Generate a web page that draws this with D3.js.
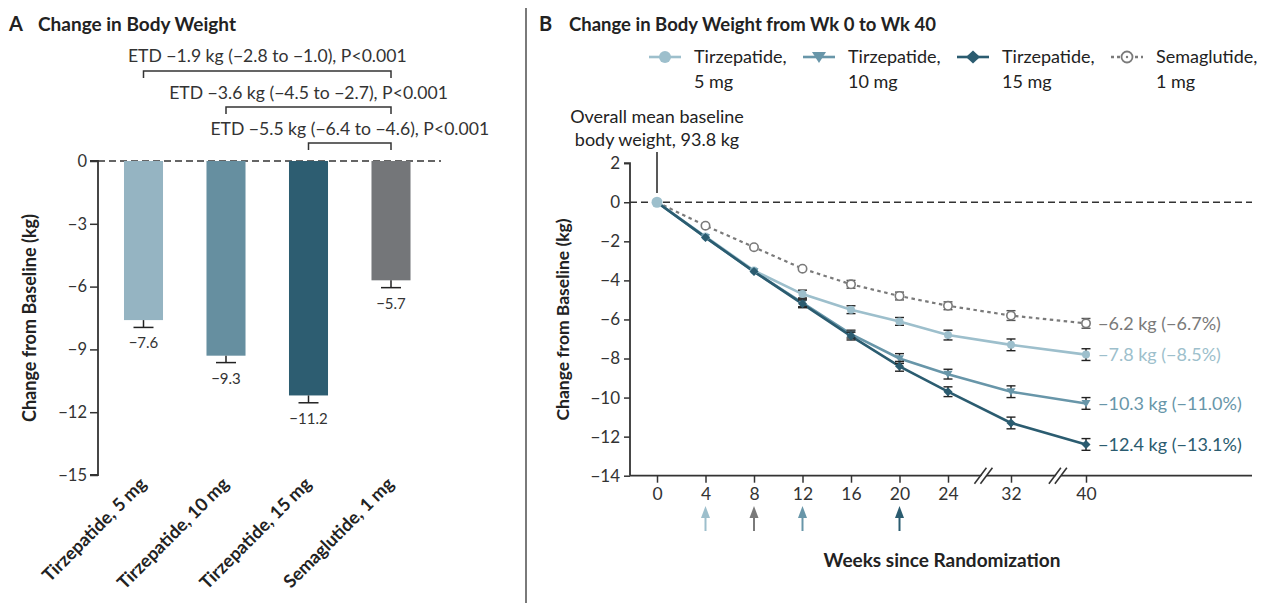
<!DOCTYPE html>
<html>
<head>
<meta charset="utf-8">
<script src="https://cdn.jsdelivr.net/npm/d3@7"></script>
<style>
  html, body { margin: 0; padding: 0; background: #fff; }
  svg { display: block; }
</style>
</head>
<body>
<svg id="chart" width="1261" height="603"></svg>
<script>
// ---------- Panel A data ----------
const categories = ["Tirzepatide, 5 mg", "Tirzepatide, 10 mg", "Tirzepatide, 15 mg", "Semaglutide, 1 mg"];
const barValues = [-7.6, -9.3, -11.2, -5.7];
const barSE = [0.35, 0.33, 0.35, 0.35];
const barValueLabels = ["−7.6", "−9.3", "−11.2", "−5.7"];
const barYTicks = [0, -3, -6, -9, -12, -15];
const etdLabels = [
  "ETD −1.9 kg (−2.8 to −1.0), P<0.001",
  "ETD −3.6 kg (−4.5 to −2.7), P<0.001",
  "ETD −5.5 kg (−6.4 to −4.6), P<0.001"
];
const etdPairs = [[0, 3], [1, 3], [2, 3]];

// ---------- Panel B data ----------
const weeks = [0, 4, 8, 12, 16, 20, 24, 32, 40];
const tirz5  = [0, -1.75, -3.5, -4.7, -5.5, -6.1, -6.8, -7.3, -7.8];
const tirz10 = [0, -1.8, -3.55, -5.15, -6.75, -8.0, -8.8, -9.7, -10.3];
const tirz15 = [0, -1.8, -3.55, -5.2, -6.85, -8.4, -9.7, -11.3, -12.4];
const sema   = [0, -1.2, -2.3, -3.4, -4.2, -4.8, -5.3, -5.8, -6.2];
const tirz5SE  = [0, 0, 0, 0.2, 0.2, 0.2, 0.25, 0.3, 0.3];
const tirz10SE = [0, 0, 0, 0.2, 0.2, 0.25, 0.25, 0.3, 0.3];
const tirz15SE = [0, 0, 0, 0.2, 0.2, 0.25, 0.25, 0.3, 0.3];
const semaSE   = [0, 0, 0, 0, 0.2, 0.2, 0.2, 0.25, 0.25];
const seriesNames = ["Tirzepatide,|5 mg", "Tirzepatide,|10 mg", "Tirzepatide,|15 mg", "Semaglutide,|1 mg"];
const endLabels = ["−7.8 kg (−8.5%)", "−10.3 kg (−11.0%)", "−12.4 kg (−13.1%)", "−6.2 kg (−6.7%)"];
const lineYTicks = [2, 0, -2, -4, -6, -8, -10, -12, -14];
const arrowWeeks = [4, 8, 12, 20];

// ---------- Styles ----------
const barColors = ["#95b4c2", "#668fa0", "#2d5d71", "#747679"];
const lineColors = ["#9dbfcc", "#6896a9", "#2b5c70", "#7a7a7a"];
const arrowColors = ["#9dbfcc", "#7a7a7a", "#6896a9", "#2b5c70"];
const textColor = "#333";
const FA = "Lato, 'Open Sans', sans-serif";
const FB = "Lato, 'Open Sans', sans-serif";

const svg = d3.select("#chart");

// divider
svg.append("line").attr("x1", 526).attr("x2", 526).attr("y1", 8).attr("y2", 603)
  .attr("stroke", "#7a7a7a").attr("stroke-width", 2);

// ================= PANEL A =================
const gA = svg.append("g");
gA.append("text").attr("x", 9).attr("y", 31).attr("font-family", FA).attr("font-weight", 700)
  .attr("font-size", 20).attr("fill", "#222").text("A");
gA.append("text").attr("x", 38).attr("y", 31).attr("font-family", FA).attr("font-weight", 700)
  .attr("font-size", 19).attr("fill", "#222").text("Change in Body Weight");

const yA = d3.scaleLinear().domain([-15, 0]).range([475, 161]);
const xA = d3.scaleBand().domain(categories).range([98, 436.5]).paddingInner(0.527).paddingOuter(0.315);

// zero dashed line
gA.append("line").attr("x1", 98).attr("x2", 441).attr("y1", yA(0)).attr("y2", yA(0))
  .attr("stroke", "#333").attr("stroke-width", 1.5).attr("stroke-dasharray", "7,4");

// bars
gA.selectAll("rect.bar").data(categories).enter().append("rect")
  .attr("x", d => xA(d)).attr("width", xA.bandwidth())
  .attr("y", yA(0)).attr("height", (d, i) => yA(barValues[i]) - yA(0))
  .attr("fill", (d, i) => barColors[i]);

// error bars (down)
categories.forEach((c, i) => {
  const cx = xA(c) + xA.bandwidth() / 2;
  const y1 = yA(barValues[i]);
  const y2 = yA(barValues[i] - barSE[i]);
  gA.append("line").attr("x1", cx).attr("x2", cx).attr("y1", y1).attr("y2", y2)
    .attr("stroke", "#222").attr("stroke-width", 1.5);
  gA.append("line").attr("x1", cx - 10).attr("x2", cx + 10).attr("y1", y2).attr("y2", y2)
    .attr("stroke", "#222").attr("stroke-width", 1.5);
  gA.append("text").attr("x", cx).attr("y", y2 + 21).attr("text-anchor", "middle")
    .attr("font-family", FA).attr("font-size", 15).attr("fill", textColor).text(barValueLabels[i]);
});

// y axis
const axA = gA.append("g").attr("transform", "translate(98,0)")
  .call(d3.axisLeft(yA).tickValues(barYTicks).tickSize(8).tickPadding(3).tickFormat(d => d === 0 ? "0" : "−" + Math.abs(d)));
axA.select(".domain").attr("stroke", "#333").attr("stroke-width", 1.8).attr("d", `M-8,${yA(-15)}H0V${yA(0)}H-8`);
axA.selectAll(".tick line").attr("stroke", "#333").attr("stroke-width", 1.5);
axA.selectAll(".tick text").attr("font-family", FA).attr("font-size", 16.5).attr("fill", textColor);

gA.append("text").attr("transform", `translate(36,${(yA(0) + yA(-15)) / 2}) rotate(-90)`)
  .attr("text-anchor", "middle").attr("font-family", FA).attr("font-weight", 700).attr("font-size", 18)
  .attr("fill", "#222").text("Change from Baseline (kg)");

// x labels
categories.forEach((c, i) => {
  const cx = xA(c) + xA.bandwidth() / 2;
  gA.append("text").attr("transform", `translate(${cx + 4},${485}) rotate(-45)`)
    .attr("text-anchor", "end").attr("font-family", FA).attr("font-weight", 700).attr("font-size", 18)
    .attr("fill", "#222").text(c);
});

// ETD brackets
const bracketY = [71, 107, 143];
const etdTextY = [62, 99, 135];
etdPairs.forEach((p, k) => {
  const xa = xA(categories[p[0]]) + xA.bandwidth() / 2;
  const xb = xA(categories[p[1]]) + xA.bandwidth() / 2;
  gA.append("path").attr("d", `M${xa},${bracketY[k] + 7}V${bracketY[k]}H${xb}V${bracketY[k] + 7}`)
    .attr("fill", "none").attr("stroke", "#333").attr("stroke-width", 1.5);
  gA.append("text").attr("x", (xa + xb) / 2).attr("y", etdTextY[k]).attr("text-anchor", "middle")
    .attr("font-family", FA).attr("font-size", 17.6).attr("fill", textColor).text(etdLabels[k]);
});

// ================= PANEL B =================
const gB = svg.append("g");
gB.append("text").attr("x", 539).attr("y", 31).attr("font-family", FA).attr("font-weight", 700)
  .attr("font-size", 20).attr("fill", "#222").text("B");
gB.append("text").attr("x", 569).attr("y", 31).attr("font-family", FA).attr("font-weight", 700)
  .attr("font-size", 18.5).attr("fill", "#222").text("Change in Body Weight from Wk 0 to Wk 40");

const yB = d3.scaleLinear().domain([-14, 2]).range([475.7, 163.2]);
const xB = d3.scaleLinear().domain([0, 24, 32, 40]).range([657, 948, 1011, 1086]);

// zero dashed line
gB.append("line").attr("x1", 630).attr("x2", 1252).attr("y1", yB(0)).attr("y2", yB(0))
  .attr("stroke", "#333").attr("stroke-width", 1.5).attr("stroke-dasharray", "7,4");

// y axis
const axB = gB.append("g").attr("transform", "translate(630,0)")
  .call(d3.axisLeft(yB).tickValues(lineYTicks).tickSize(6).tickPadding(4).tickFormat(d => d < 0 ? "−" + Math.abs(d) : String(d)));
axB.select(".domain").attr("stroke", "#333").attr("stroke-width", 1.8).attr("d", `M0,${yB(-14)}V${yB(2)}H-6`);
axB.selectAll(".tick line").attr("stroke", "#333").attr("stroke-width", 1.5);
axB.selectAll(".tick text").attr("font-family", FB).attr("font-size", 17).attr("fill", textColor);

// x axis
const axXB = gB.append("g").attr("transform", `translate(0,${yB(-14)})`)
  .call(d3.axisBottom(xB).tickValues(weeks).tickSize(7).tickPadding(5).tickFormat(d3.format("d")));
axXB.select(".domain").attr("stroke", "#333").attr("stroke-width", 1.8).attr("d", `M630,0H1252`);
axXB.selectAll(".tick line").attr("stroke", "#333").attr("stroke-width", 1.5);
axXB.selectAll(".tick text").attr("font-family", FB).attr("font-size", 17.5).attr("fill", textColor);

// axis breaks
[28.5, 37].forEach(w => {
  const bx = xB(w), by = yB(-14);
  gB.append("path").attr("d", `M${bx - 5},${by + 5}L${bx + 1},${by - 5}L${bx + 6},${by - 5}L${bx},${by + 5}Z`)
    .attr("fill", "#fff").attr("stroke", "none");
  [-3, 3].forEach(o => {
    gB.append("line").attr("x1", bx + o - 6).attr("y1", by + 8).attr("x2", bx + o + 6).attr("y2", by - 8)
      .attr("stroke", "#333").attr("stroke-width", 1.5);
  });
});

gB.append("text").attr("x", 942).attr("y", 567).attr("text-anchor", "middle").attr("font-family", FA)
  .attr("font-weight", 700).attr("font-size", 19).attr("fill", "#222").text("Weeks since Randomization");

gB.append("text").attr("transform", `translate(569,${(yB(2) + yB(-14)) / 2}) rotate(-90)`)
  .attr("text-anchor", "middle").attr("font-family", FA).attr("font-weight", 700).attr("font-size", 17.5)
  .attr("fill", "#222").text("Change from Baseline (kg)");

// arrows
arrowWeeks.forEach((w, i) => {
  const ax = xB(w);
  gB.append("line").attr("x1", ax).attr("x2", ax).attr("y1", 531).attr("y2", 514)
    .attr("stroke", arrowColors[i]).attr("stroke-width", 2);
  gB.append("path").attr("d", `M${ax},${506}L${ax + 4.5},${518}L${ax - 4.5},${518}Z`).attr("fill", arrowColors[i]);
});

// annotation
gB.append("text").attr("x", 657).attr("y", 123).attr("text-anchor", "middle").attr("font-family", FB)
  .attr("font-size", 18).attr("fill", "#222").text("Overall mean baseline");
gB.append("text").attr("x", 657).attr("y", 146).attr("text-anchor", "middle").attr("font-family", FB)
  .attr("font-size", 18).attr("fill", "#222").text("body weight, 93.8 kg");
gB.append("line").attr("x1", 657).attr("x2", 657).attr("y1", 152).attr("y2", 193)
  .attr("stroke", "#222").attr("stroke-width", 1.5);

// series
const seriesVals = [tirz5, tirz10, tirz15, sema];
const seriesSE = [tirz5SE, tirz10SE, tirz15SE, semaSE];
const line = d3.line().x((d, i) => xB(weeks[i])).y(d => yB(d));
const drawOrder = [3, 0, 1, 2];

function marker(g, type, x, y, color, big) {
  if (type === 0) {
    g.append("circle").attr("cx", x).attr("cy", y).attr("r", big ? 5.5 : 4).attr("fill", color);
  } else if (type === 1) {
    const s = 4.5;
    g.append("path").attr("d", `M${x - s},${y - s * 0.75}L${x + s},${y - s * 0.75}L${x},${y + s * 0.9}Z`).attr("fill", color);
  } else if (type === 2) {
    const s = 4.5;
    g.append("path").attr("d", `M${x},${y - s}L${x + s},${y}L${x},${y + s}L${x - s},${y}Z`).attr("fill", color);
  } else {
    g.append("circle").attr("cx", x).attr("cy", y).attr("r", 4.2).attr("fill", "#fff")
      .attr("stroke", color).attr("stroke-width", 1.6);
  }
}

drawOrder.forEach(s => {
  gB.append("path").datum(seriesVals[s]).attr("d", line).attr("fill", "none")
    .attr("stroke", lineColors[s]).attr("stroke-width", s === 3 ? 2.2 : 2.6)
    .attr("stroke-dasharray", s === 3 ? "3.5,3.5" : null);
});
drawOrder.forEach(s => {
  seriesVals[s].forEach((v, i) => {
    const se = seriesSE[s][i];
    const x = xB(weeks[i]);
    if (se > 0) {
      const ya = yB(v + se), yb = yB(v - se);
      const col = s === 3 ? "#555" : "#222";
      gB.append("line").attr("x1", x).attr("x2", x).attr("y1", ya).attr("y2", yb).attr("stroke", col).attr("stroke-width", 1.4);
      [ya, yb].forEach(yy => gB.append("line").attr("x1", x - 4.5).attr("x2", x + 4.5).attr("y1", yy).attr("y2", yy)
        .attr("stroke", col).attr("stroke-width", 1.4));
    }
    if (i > 0) marker(gB, s, x, yB(v), lineColors[s], false);
  });
});
marker(gB, 0, xB(0), yB(0), lineColors[0], true);

// end labels
seriesVals.forEach((vals, s) => {
  gB.append("text").attr("x", xB(40) + 12).attr("y", yB(vals[vals.length - 1]) + 6.5)
    .attr("font-family", FB).attr("font-size", 18).attr("fill", lineColors[s]).text(endLabels[s]);
});

// legend
const legX = [649, 803, 957, 1111];
seriesNames.forEach((nm, s) => {
  const lx = legX[s], ly = 57;
  gB.append("line").attr("x1", lx).attr("x2", lx + 32).attr("y1", ly).attr("y2", ly)
    .attr("stroke", lineColors[s]).attr("stroke-width", 2.6).attr("stroke-dasharray", s === 3 ? "3,3" : null);
  const g = gB.append("g");
  if (s === 0) g.append("circle").attr("cx", lx + 16).attr("cy", ly).attr("r", 6).attr("fill", lineColors[0]);
  else if (s === 1) g.append("path").attr("d", `M${lx + 9},${ly - 5}L${lx + 23},${ly - 5}L${lx + 16},${ly + 6}Z`).attr("fill", lineColors[1]);
  else if (s === 2) g.append("path").attr("d", `M${lx + 16},${ly - 6.5}L${lx + 23},${ly}L${lx + 16},${ly + 6.5}L${lx + 9},${ly}Z`).attr("fill", lineColors[2]);
  else g.append("circle").attr("cx", lx + 16).attr("cy", ly).attr("r", 5.5).attr("fill", "#fff").attr("stroke", lineColors[3]).attr("stroke-width", 1.8);
  if (s === 3) g.append("circle").attr("cx", lx + 16).attr("cy", ly).attr("r", 1.2).attr("fill", lineColors[3]);
  const parts = nm.split("|");
  gB.append("text").attr("x", lx + 45).attr("y", 63).attr("font-family", FB).attr("font-size", 18)
    .attr("fill", "#222").text(parts[0]);
  gB.append("text").attr("x", lx + 45).attr("y", 88).attr("font-family", FB).attr("font-size", 18)
    .attr("fill", "#222").text(parts[1]);
});
</script>
</body>
</html>
